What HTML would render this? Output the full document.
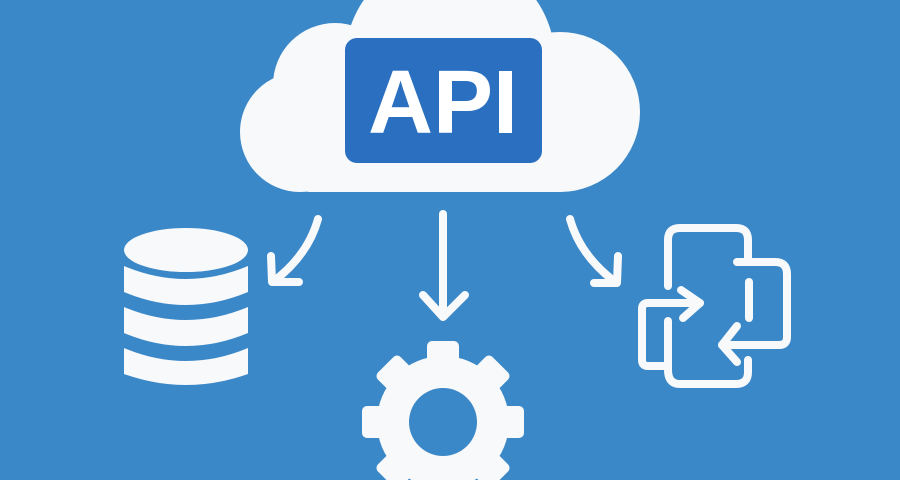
<!DOCTYPE html>
<html><head><meta charset="utf-8"><style>
html,body{margin:0;padding:0;background:#3b88c8;}
svg{display:block}
</style></head><body>
<svg width="900" height="480" viewBox="0 0 900 480" xmlns="http://www.w3.org/2000/svg">
<rect width="900" height="480" fill="#3b88c8"/>
<g fill="#f7f9fb">
  <circle cx="300" cy="132" r="60"/>
  <circle cx="335" cy="85" r="62"/>
  <circle cx="450" cy="60" r="105"/>
  <circle cx="560" cy="112" r="80"/>
  <rect x="300" y="100" width="270" height="92" rx="10"/>
</g>
<rect x="345" y="38" width="197" height="125" rx="12" fill="#2a6fc0"/>
<text x="443" y="133" text-anchor="middle" font-family="Liberation Sans, sans-serif" font-weight="bold" font-size="90" fill="#ffffff">API</text>

<g fill="none" stroke="#f7f9fb" stroke-width="8" stroke-linecap="round" stroke-linejoin="round">
  <path d="M318 219 Q308 255 274 281"/>
  <path d="M271 256 L272 282 L299 282"/>
  <path d="M443 214 L443 316"/>
  <path d="M423 295 L443 317 L465 295"/>
  <path d="M570 219 Q580 255 614 281"/>
  <path d="M618 256 L617 283 L594 283"/>
</g>

<!-- database -->
<g fill="#f7f9fb">
  <ellipse cx="186" cy="250" rx="62" ry="22"/>
  <path d="M124 266 Q186 292 248 266 L248 292 Q186 318 124 292 Z"/>
  <path d="M124 307 Q186 333 248 307 L248 333 Q186 359 124 333 Z"/>
  <path d="M124 348 Q186 374 248 348 L248 374 Q186 396 124 374 Z"/>
</g>

<!-- gear -->
<g fill="#f7f9fb">
  <g transform="translate(443,422)">
    <circle r="66"/>
    <rect x="-16" y="-81" width="32" height="30" rx="5"/>
    <rect x="-16" y="-81" width="32" height="30" rx="5" transform="rotate(45)"/>
    <rect x="-16" y="-81" width="32" height="30" rx="5" transform="rotate(90)"/>
    <rect x="-16" y="-81" width="32" height="30" rx="5" transform="rotate(135)"/>
    <rect x="-16" y="-81" width="32" height="30" rx="5" transform="rotate(180)"/>
    <rect x="-16" y="-81" width="32" height="30" rx="5" transform="rotate(225)"/>
    <rect x="-16" y="-81" width="32" height="30" rx="5" transform="rotate(270)"/>
    <rect x="-16" y="-81" width="32" height="30" rx="5" transform="rotate(315)"/>
  </g>
  <circle cx="443" cy="422" r="34" fill="#3b88c8"/>
</g>

<!-- swap icon -->
<g fill="none" stroke="#f7f9fb" stroke-width="8" stroke-linecap="round" stroke-linejoin="round">
  <path d="M668 286 L668 240 Q668 228 680 228 L736 228 Q748 228 748 240 L748 262"/>
  <path d="M737 262 L775 262 Q787 262 787 274 L787 337 Q787 345 779 345 L722 345"/>
  <path d="M749 282 L749 318"/>
  <path d="M737 326 L722 345 L737 362"/>
  <path d="M681 290 L700 303 L683 318"/>
  <path d="M700 303 L648 303 Q642 303 642 309 L642 360 Q642 366 648 366 L668 366"/>
  <path d="M668 321 L668 370 Q668 384 680 384 L736 384 Q748 384 748 372 L748 360"/>
</g>
</svg>
</body></html>
